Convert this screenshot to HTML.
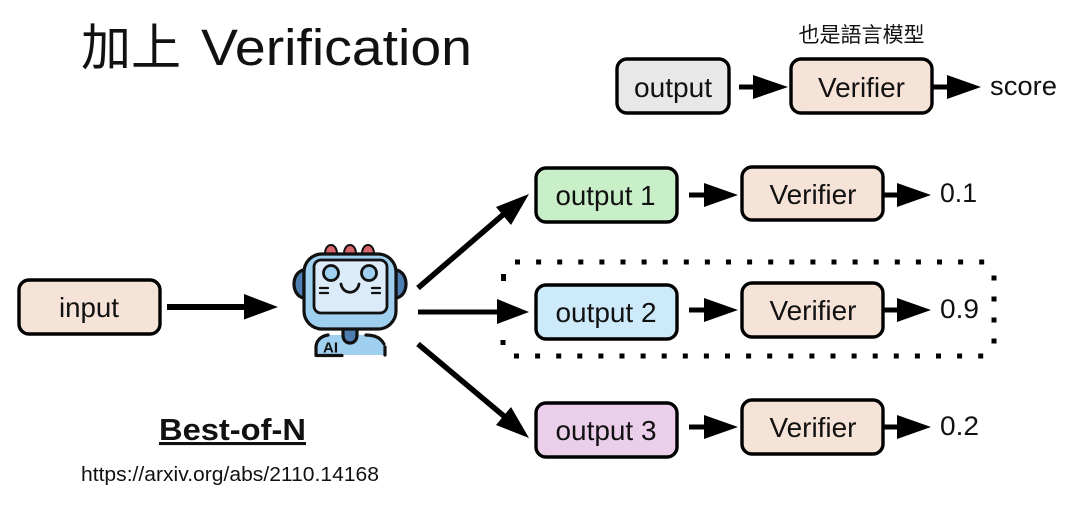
<!DOCTYPE html>
<html><head><meta charset="utf-8">
<style>
html,body{margin:0;padding:0;background:#fff;width:1080px;height:513px;overflow:hidden}
svg{display:block}
text{font-family:"Liberation Sans","Noto Sans CJK TC",sans-serif;fill:#111}
.b{stroke:#000;stroke-width:3.4}
.l{font-size:28px;text-anchor:middle}
</style></head><body>
<svg width="1080" height="513" viewBox="0 0 1080 513" xmlns="http://www.w3.org/2000/svg">
<rect width="1080" height="513" fill="#fff"/>
<text x="81" y="65" style="font-size:50px">加上</text>
<text x="201" y="65" style="font-size:51px" textLength="271" lengthAdjust="spacingAndGlyphs">Verification</text>
<text x="861.500" y="42" text-anchor="middle" style="font-size:21px">也是語言模型</text>

<!-- top row -->
<rect class="b" x="617" y="59" width="112" height="54" rx="10" fill="#e8e8e8"/>
<text class="l" x="673" y="97" textLength="78" lengthAdjust="spacingAndGlyphs">output</text>
<rect class="b" x="791" y="59" width="141" height="54" rx="10" fill="#f6e3d7"/>
<text class="l" x="861.500" y="97" textLength="87" lengthAdjust="spacingAndGlyphs">Verifier</text>
<path d="M739 84.500H753V75L788 87L753 99V89.500H739Z" fill="#000"/>
<path d="M933 84.500H947V75L981 87L947 99V89.500H933Z" fill="#000"/>
<text x="990" y="95" style="font-size:27px" textLength="67" lengthAdjust="spacingAndGlyphs">score</text>

<!-- input -->
<rect class="b" x="19" y="280" width="141" height="54" rx="10" fill="#f6e3d7"/>
<text class="l" x="89" y="317" textLength="60" lengthAdjust="spacingAndGlyphs">input</text>
<path d="M167 304H244V294L278 307L244 319.500V310H167Z" fill="#000"/>

<!-- robot -->
<g stroke="#111" stroke-width="3.200" stroke-linejoin="round" stroke-linecap="round">
<path d="M325 254c0-12 12-12 12 0zM344 254c0-12 12-12 12 0zM362 254c0-12 12-12 12 0z" fill="#d9666c" stroke-width="2"/>
<path d="M304 270c-7 1-10 8-10 14s3 13 10 14z" fill="#4f7fb2"/>
<path d="M396 270c7 1 10 8 10 14s-3 13-10 14z" fill="#4f7fb2"/>
<path d="M316 355V347c0-8 6-12 14-12h40c9 0 15 5 15 12v8z" fill="#9fd0ef" stroke="none"/>
<path d="M316 355V347c0-6 5-11 12-12M366 335c9 0 15 3 18 9M385 347V355M316 355.500h26" fill="none"/>
<path d="M343 328h14v7c0 5-3 8-7 8s-7-3-7-8z" fill="#4f7fb2"/>
<rect x="304" y="254" width="92" height="75" rx="18" fill="#9fd0ef"/>
<rect x="314" y="260" width="73" height="53" rx="7" fill="#dcebfa" stroke-width="2.800"/>
<circle cx="331" cy="273" r="7.500" fill="#9fd0ef" stroke-width="2.800"/>
<circle cx="369" cy="273" r="7.500" fill="#9fd0ef" stroke-width="2.800"/>
<path d="M341 284c2 11 16 11 18 0" fill="none" stroke-width="2.800"/>
<path d="M320 288h8M320 293h8M372 288h8M372 293h8" fill="none" stroke-width="2.200"/>
</g>
<text x="323" y="352.500" style="font-size:15px;font-weight:bold" textLength="15" lengthAdjust="spacingAndGlyphs">AI</text>

<!-- fan arrows -->
<path d="M418 288L505 213" stroke="#000" stroke-width="5.500" fill="none"/>
<path d="M529 194L511 225L496 207Z" fill="#000"/>
<path d="M418 309.500H497V299L529 312L497 324V314.500H418Z" fill="#000"/>
<path d="M418 344L505 417" stroke="#000" stroke-width="5.500" fill="none"/>
<path d="M529 438L496 425L511 407Z" fill="#000"/>

<!-- dotted box -->
<g fill="none" stroke="#000" stroke-width="5">
<path d="M515 262H985" stroke-dasharray="5 16.100"/>
<path d="M514 356H985" stroke-dasharray="5 16.100"/>
<path d="M503.500 274V281"/>
<path d="M503 340V345"/>
<path d="M994 275.500V345" stroke-dasharray="5 16"/>
</g>

<!-- rows -->
<rect class="b" x="536" y="168" width="141" height="54" rx="10" fill="#c9efc9"/>
<text class="l" x="605.500" y="205" textLength="100" lengthAdjust="spacingAndGlyphs">output 1</text>
<rect class="b" x="742" y="167" width="141" height="53" rx="10" fill="#f6e3d7"/>
<text class="l" x="813" y="204" textLength="87" lengthAdjust="spacingAndGlyphs">Verifier</text>
<path d="M689 192.500H704V183L738 195L704 207V197.500H689Z" fill="#000"/>
<path d="M884 192.500H897V183L931 195L897 207V197.500H884Z" fill="#000"/>
<text x="940" y="202" style="font-size:27px" textLength="37" lengthAdjust="spacingAndGlyphs">0.1</text>

<rect class="b" x="536" y="285" width="141" height="54" rx="10" fill="#cdeafa"/>
<text class="l" x="606" y="322" textLength="101" lengthAdjust="spacingAndGlyphs">output 2</text>
<rect class="b" x="742" y="283" width="141" height="54" rx="10" fill="#f6e3d7"/>
<text class="l" x="813" y="320" textLength="87" lengthAdjust="spacingAndGlyphs">Verifier</text>
<path d="M689 307.500H704V298L738 310L704 322V312.500H689Z" fill="#000"/>
<path d="M884 307.500H897V298L931 310L897 322V312.500H884Z" fill="#000"/>
<text x="940" y="318" style="font-size:27px" textLength="39" lengthAdjust="spacingAndGlyphs">0.9</text>

<rect class="b" x="536" y="403" width="141" height="54" rx="10" fill="#ebcfea"/>
<text class="l" x="606" y="440" textLength="101" lengthAdjust="spacingAndGlyphs">output 3</text>
<rect class="b" x="742" y="400" width="141" height="54" rx="10" fill="#f6e3d7"/>
<text class="l" x="813" y="437" textLength="87" lengthAdjust="spacingAndGlyphs">Verifier</text>
<path d="M689 424.500H704V415L738 427L704 439V429.500H689Z" fill="#000"/>
<path d="M884 424.500H897V415L931 427L897 439V429.500H884Z" fill="#000"/>
<text x="940" y="435" style="font-size:27px" textLength="39" lengthAdjust="spacingAndGlyphs">0.2</text>

<!-- captions -->
<text x="159" y="440" style="font-size:31px;font-weight:bold" text-decoration="underline" textLength="147" lengthAdjust="spacingAndGlyphs">Best-of-N</text>
<text x="81" y="481" style="font-size:20px" textLength="298" lengthAdjust="spacingAndGlyphs">https://arxiv.org/abs/2110.14168</text>
</svg>
</body></html>
